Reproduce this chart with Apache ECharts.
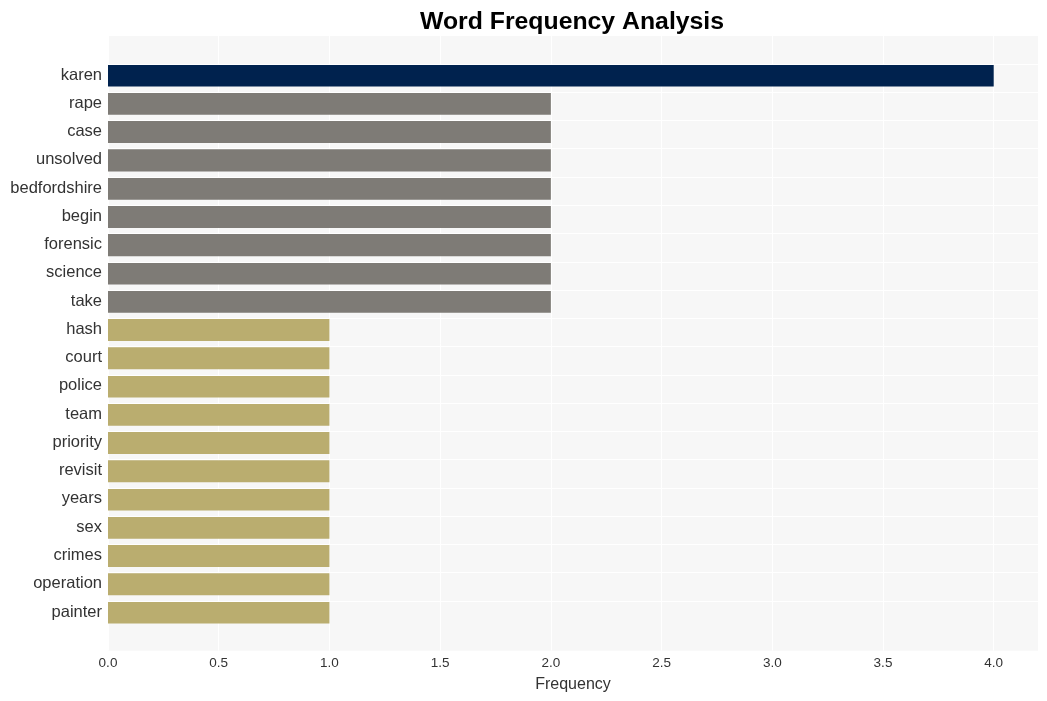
<!DOCTYPE html>
<html>
<head>
<meta charset="utf-8">
<script src="https://cdn.jsdelivr.net/npm/echarts@6/dist/echarts.min.js"></script>
<style>html,body{margin:0;padding:0;background:#fff;}#c{width:1047px;height:701px;}</style>
</head>
<body>
<div id="c"></div>
<script>
const categories = ["karen","rape","case","unsolved","bedfordshire","begin","forensic","science","take","hash","court","police","team","priority","revisit","years","sex","crimes","operation","painter"];
const values = [4,2,2,2,2,2,2,2,2,1,1,1,1,1,1,1,1,1,1,1];
const colorGroups = ["#00224e","#7e7b76","#7e7b76","#7e7b76","#7e7b76","#7e7b76","#7e7b76","#7e7b76","#7e7b76","#baad6f","#baad6f","#baad6f","#baad6f","#baad6f","#baad6f","#baad6f","#baad6f","#baad6f","#baad6f","#baad6f"];
const xTicks = [0,0.5,1,1.5,2,2.5,3,3.5,4];

const chart = echarts.init(document.getElementById('c'), null, {renderer:'canvas'});
const font = 'Liberation Sans, Arial, Helvetica, sans-serif';
chart.setOption({
  animation:false,
  backgroundColor:'#ffffff',
  title:{text:'Word Frequency Analysis', left:567, top:5, textAlign:'center',
    textStyle:{fontFamily:font, fontWeight:'bold', fontSize:24.8, color:'#000'}},
  grid:[
    {left:108, top:36, width:930, height:614.7, show:true, backgroundColor:'#f7f7f7', borderWidth:0},
    {left:108, top:60.9, width:930, height:565.2, show:false}
  ],
  xAxis:[
    {gridIndex:0, type:'value', min:0, max:4.2, interval:0.5,
      axisLine:{show:false}, axisTick:{show:false},
      axisLabel:{fontFamily:font, fontSize:13.5, color:'#333', margin:6,
        formatter:v=> xTicks.indexOf(v)>=0 ? v.toFixed(1) : ''},
      splitLine:{show:true, lineStyle:{color:'#ffffff', width:1}},
      name:'Frequency', nameLocation:'middle', nameGap:26,
      nameTextStyle:{fontFamily:font, fontSize:16, color:'#333'}},
    {gridIndex:1, type:'value', min:0, max:4.2, show:false}
  ],
  yAxis:[
    {gridIndex:0, type:'value', show:false, min:0, max:1},
    {gridIndex:1, type:'category', data:categories, inverse:true,
      axisLine:{show:false}, axisTick:{show:false}, splitLine:{show:false},
      axisLabel:{fontFamily:font, fontSize:16.5, color:'#333', margin:6, padding:[6,0,0,0]}}
  ],
  series:[
    {type:'bar', xAxisIndex:1, yAxisIndex:1, data:[], z:1, silent:true,
      markLine:{silent:true, symbol:['none','none'], label:{show:false},
        lineStyle:{color:'#ffffff', width:1, type:'solid'},
        data:categories.map(c=>({yAxis:c}))}},
    {type:'bar', xAxisIndex:1, yAxisIndex:1, z:2, barWidth:'78%',
      data:values.map((v,i)=>({value:v, itemStyle:{color:colorGroups[i]}}))}
  ]
});
</script>
</body>
</html>
